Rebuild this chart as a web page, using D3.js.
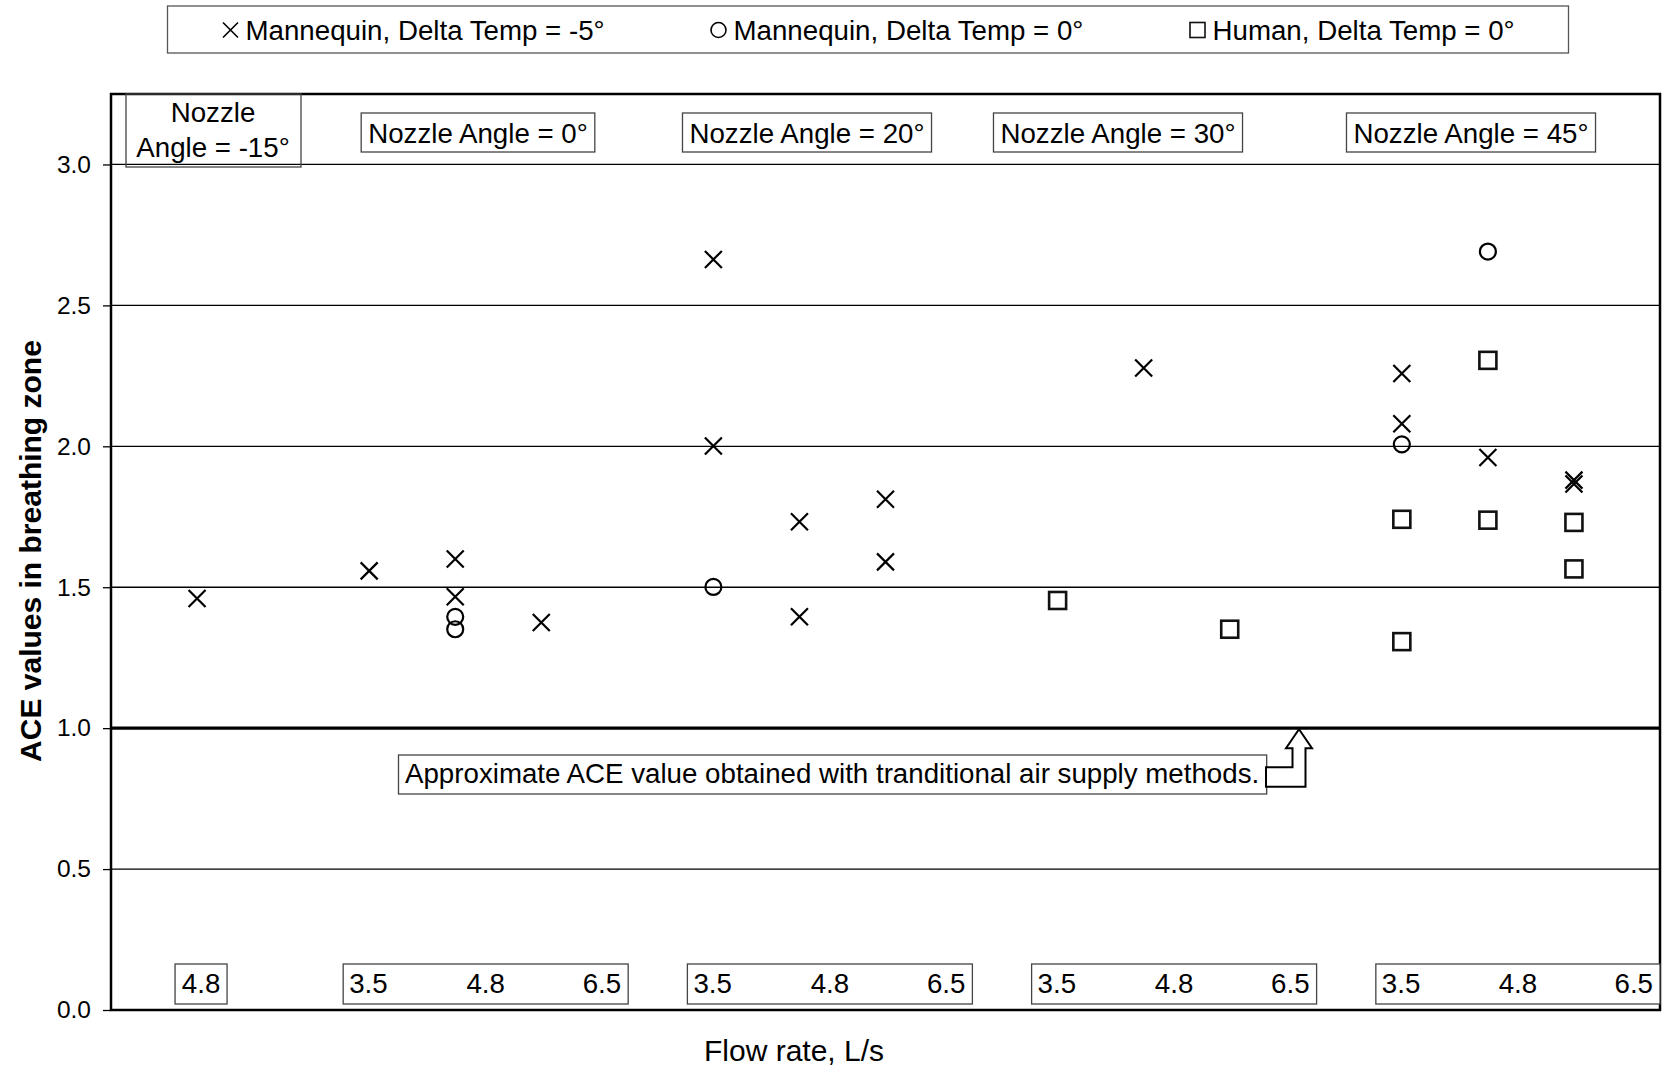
<!DOCTYPE html>
<html>
<head>
<meta charset="utf-8">
<script src="https://cdn.jsdelivr.net/npm/d3@7"></script>
<style>
  body { margin: 0; background: #fff; }
  svg { display: block; font-family: "Liberation Sans", Arial, sans-serif; }
</style>
</head>
<body>
<div id="chart"></div>
<script>
// ---- data ----
const angles = [-15, 0, 20, 30, 45];
const angleLabels = ["Nozzle Angle = -15°", "Nozzle Angle = 0°", "Nozzle Angle = 20°", "Nozzle Angle = 30°", "Nozzle Angle = 45°"];
const flowRates = [3.5, 4.8, 6.5];
const yTicks = [0, 0.5, 1.0, 1.5, 2.0, 2.5, 3.0];
const seriesNames = ["Mannequin, Delta Temp = -5°", "Mannequin, Delta Temp = 0°", "Human, Delta Temp = 0°"];

// [nozzle angle, flow rate, ACE]
const mannequinMinus5 = [
  [-15, 4.8, 1.46],
  [0, 3.5, 1.558],
  [0, 4.8, 1.600], [0, 4.8, 1.466],
  [0, 6.5, 1.375],
  [20, 3.5, 2.663], [20, 3.5, 2.001],
  [20, 4.8, 1.732], [20, 4.8, 1.395],
  [20, 6.5, 1.812], [20, 6.5, 1.590],
  [30, 4.8, 2.278],
  [45, 3.5, 2.258], [45, 3.5, 2.080],
  [45, 4.8, 1.960],
  [45, 6.5, 1.880], [45, 6.5, 1.866]
];
const mannequin0 = [
  [0, 4.8, 1.395], [0, 4.8, 1.351],
  [20, 3.5, 1.501],
  [45, 3.5, 2.007],
  [45, 4.8, 2.691]
];
const human0 = [
  [30, 3.5, 1.453],
  [30, 6.5, 1.351],
  [45, 3.5, 1.741], [45, 3.5, 1.307],
  [45, 4.8, 2.305], [45, 4.8, 1.738],
  [45, 6.5, 1.730], [45, 6.5, 1.565]
];
const referenceAce = 1.0;
const noteText = "Approximate ACE value obtained with tranditional air supply methods.";

// ---- layout ----
const W = 1662, H = 1069;
const plot = { left: 111, right: 1660, top: 94, bottom: 1010 };
const fs = 27.7; // label font size

const svg = d3.select("#chart").append("svg")
  .attr("width", W).attr("height", H);

// x positions: every angle group gets a slot per flow rate, gap between groups (none after -15)
const xDomain = [];
angles.forEach((a, i) => {
  flowRates.forEach(f => xDomain.push(a + "|" + f));
  if (i > 0) xDomain.push("gap" + i);
});
const x = d3.scalePoint().domain(xDomain).range([plot.left, plot.right]).padding(0);
const y = d3.scaleLinear().domain([0, 3.25]).range([plot.bottom, plot.top]);
const key = d => d[0] + "|" + d[1];

// gridlines
svg.append("g")
  .selectAll("line")
  .data(yTicks.filter(t => t > 0 && t !== referenceAce))
  .join("line")
  .attr("x1", plot.left).attr("x2", plot.right)
  .attr("y1", d => y(d)).attr("y2", d => y(d))
  .attr("stroke", "#000").attr("stroke-width", 1.3);

// y axis
const yAxis = svg.append("g")
  .attr("transform", `translate(${plot.left},0)`)
  .call(d3.axisLeft(y).tickValues(yTicks).tickFormat(d3.format(".1f")).tickSize(8).tickPadding(12));
yAxis.select(".domain").remove();
yAxis.selectAll(".tick line").attr("stroke", "#000").attr("stroke-width", 1.3);
yAxis.selectAll(".tick text")
  .attr("font-size", 24.5).attr("font-family", "Liberation Sans, Arial, sans-serif").attr("fill", "#000");

// reference line at ACE = 1.0
svg.append("line")
  .attr("x1", plot.left).attr("x2", plot.right)
  .attr("y1", y(referenceAce)).attr("y2", y(referenceAce))
  .attr("stroke", "#000").attr("stroke-width", 3.2);

// frame
svg.append("rect")
  .attr("x", plot.left).attr("y", plot.top)
  .attr("width", plot.right - plot.left).attr("height", plot.bottom - plot.top)
  .attr("fill", "none").attr("stroke", "#000").attr("stroke-width", 2.5);

// ---- nozzle angle labels ----
const labelCenters = [213, 478, 807, 1118, 1471];
angles.forEach((a, i) => {
  if (a === -15) {
    svg.append("rect").attr("x", 126).attr("y", plot.top).attr("width", 175).attr("height", 73)
      .attr("fill", "none").attr("stroke", "#444").attr("stroke-width", 1.3);
    const t = svg.append("text").attr("text-anchor", "middle").attr("font-size", fs);
    t.append("tspan").attr("x", labelCenters[i]).attr("y", 122).text("Nozzle");
    t.append("tspan").attr("x", labelCenters[i]).attr("y", 157).text(angleLabels[i].replace("Nozzle ", ""));
  } else {
    const g = svg.append("g");
    const rect = g.append("rect").attr("fill", "#fff").attr("stroke", "#444").attr("stroke-width", 1.3);
    const t = g.append("text").attr("x", labelCenters[i]).attr("y", 143)
      .attr("text-anchor", "middle").attr("font-size", fs).text(angleLabels[i]);
    const bb = t.node().getBBox();
    rect.attr("x", bb.x - 7).attr("y", 113).attr("width", bb.width + 14).attr("height", 39);
  }
});

// ---- flow rate label boxes ----
angles.forEach(a => {
  const g = svg.append("g");
  if (a === -15) {
    const cx = x(a + "|4.8") + 4;
    g.append("rect").attr("x", cx - 26).attr("y", 964).attr("width", 52).attr("height", 40)
      .attr("fill", "#fff").attr("stroke", "#444").attr("stroke-width", 1.3);
    g.append("text").attr("x", cx).attr("y", 993).attr("text-anchor", "middle")
      .attr("font-size", fs).text(d3.format(".1f")(4.8));
    return;
  }
  const left = x(a + "|3.5") - 26;
  const right = Math.min(left + 285, plot.right);
  g.append("rect").attr("x", left).attr("y", 964).attr("width", right - left).attr("height", 40)
    .attr("fill", "#fff").attr("stroke", "#444").attr("stroke-width", 1.3);
  const anchors = ["start", "middle", "end"];
  const xs = [left + 6, (left + right) / 2, right - 7];
  flowRates.forEach((f, j) => {
    g.append("text").attr("x", xs[j]).attr("y", 993).attr("text-anchor", anchors[j])
      .attr("font-size", fs).text(d3.format(".1f")(f));
  });
});

// ---- annotation box + bent arrow ----
const noteG = svg.append("g");
const noteRect = noteG.append("rect").attr("fill", "#fff").attr("stroke", "#444").attr("stroke-width", 1.3);
const noteT = noteG.append("text").attr("x", 405).attr("y", 783).attr("font-size", fs).text(noteText);
const nb = noteT.node().getBBox();
noteRect.attr("x", 398.5).attr("y", 755).attr("width", nb.width + 14).attr("height", 39);

const tx = 1299, ty = y(referenceAce) + 1;
const arrow = d3.path();
arrow.moveTo(tx - 33, ty + 38);
arrow.lineTo(tx - 6.5, ty + 38);
arrow.lineTo(tx - 6.5, ty + 19);
arrow.lineTo(tx - 13, ty + 19);
arrow.lineTo(tx, ty);
arrow.lineTo(tx + 13, ty + 19);
arrow.lineTo(tx + 6.5, ty + 19);
arrow.lineTo(tx + 6.5, ty + 57.5);
arrow.lineTo(tx - 33, ty + 57.5);
arrow.closePath();
svg.append("path").attr("d", arrow.toString())
  .attr("fill", "#fff").attr("stroke", "#000").attr("stroke-width", 2).attr("stroke-linejoin", "miter");

// ---- markers ----
function cross(s) {
  return `M${-s},${-s}L${s},${s}M${-s},${s}L${s},${-s}`;
}
function drawMarker(sel, type, size) {
  if (type === "x") {
    sel.append("path").attr("d", cross(size / 2)).attr("stroke", "#000").attr("stroke-width", 2.2).attr("fill", "none");
  } else if (type === "o") {
    sel.append("circle").attr("r", size / 2).attr("stroke", "#000").attr("stroke-width", 2.2).attr("fill", "none");
  } else {
    sel.append("rect").attr("x", -size / 2).attr("y", -size / 2).attr("width", size).attr("height", size)
      .attr("stroke", "#111").attr("stroke-width", 2.6).attr("fill", "none");
  }
}

const series = [
  { data: mannequinMinus5, type: "x", size: 17 },
  { data: mannequin0, type: "o", size: 16 },
  { data: human0, type: "s", size: 17 }
];
series.forEach(s => {
  svg.append("g").selectAll("g")
    .data(s.data)
    .join("g")
    .attr("transform", d => `translate(${x(key(d))},${y(d[2])})`)
    .each(function () { drawMarker(d3.select(this), s.type, s.size); });
});

// ---- legend ----
svg.append("rect").attr("x", 167.5).attr("y", 6).attr("width", 1401).attr("height", 47)
  .attr("fill", "#fff").attr("stroke", "#555").attr("stroke-width", 1.3);
const legendX = [230.5, 718.5, 1197.5];
series.forEach((s, i) => {
  const g = svg.append("g").attr("transform", `translate(${legendX[i]},30)`);
  const m = g.append("g");
  drawMarker(m, s.type, 15);
  m.selectAll("path,circle,rect").attr("stroke-width", 1.6);
  g.append("text").attr("x", 15).attr("y", 9.5).attr("font-size", fs).text(seriesNames[i]);
});

// ---- axis titles ----
svg.append("text")
  .attr("x", 794).attr("y", 1061)
  .attr("text-anchor", "middle").attr("font-size", 30)
  .text("Flow rate, L/s");

svg.append("text")
  .attr("transform", `translate(41,${(plot.top + plot.bottom) / 2 - 1}) rotate(-90)`)
  .attr("text-anchor", "middle").attr("font-size", 30).attr("font-weight", "bold")
  .text("ACE values in breathing zone");
</script>
</body>
</html>
